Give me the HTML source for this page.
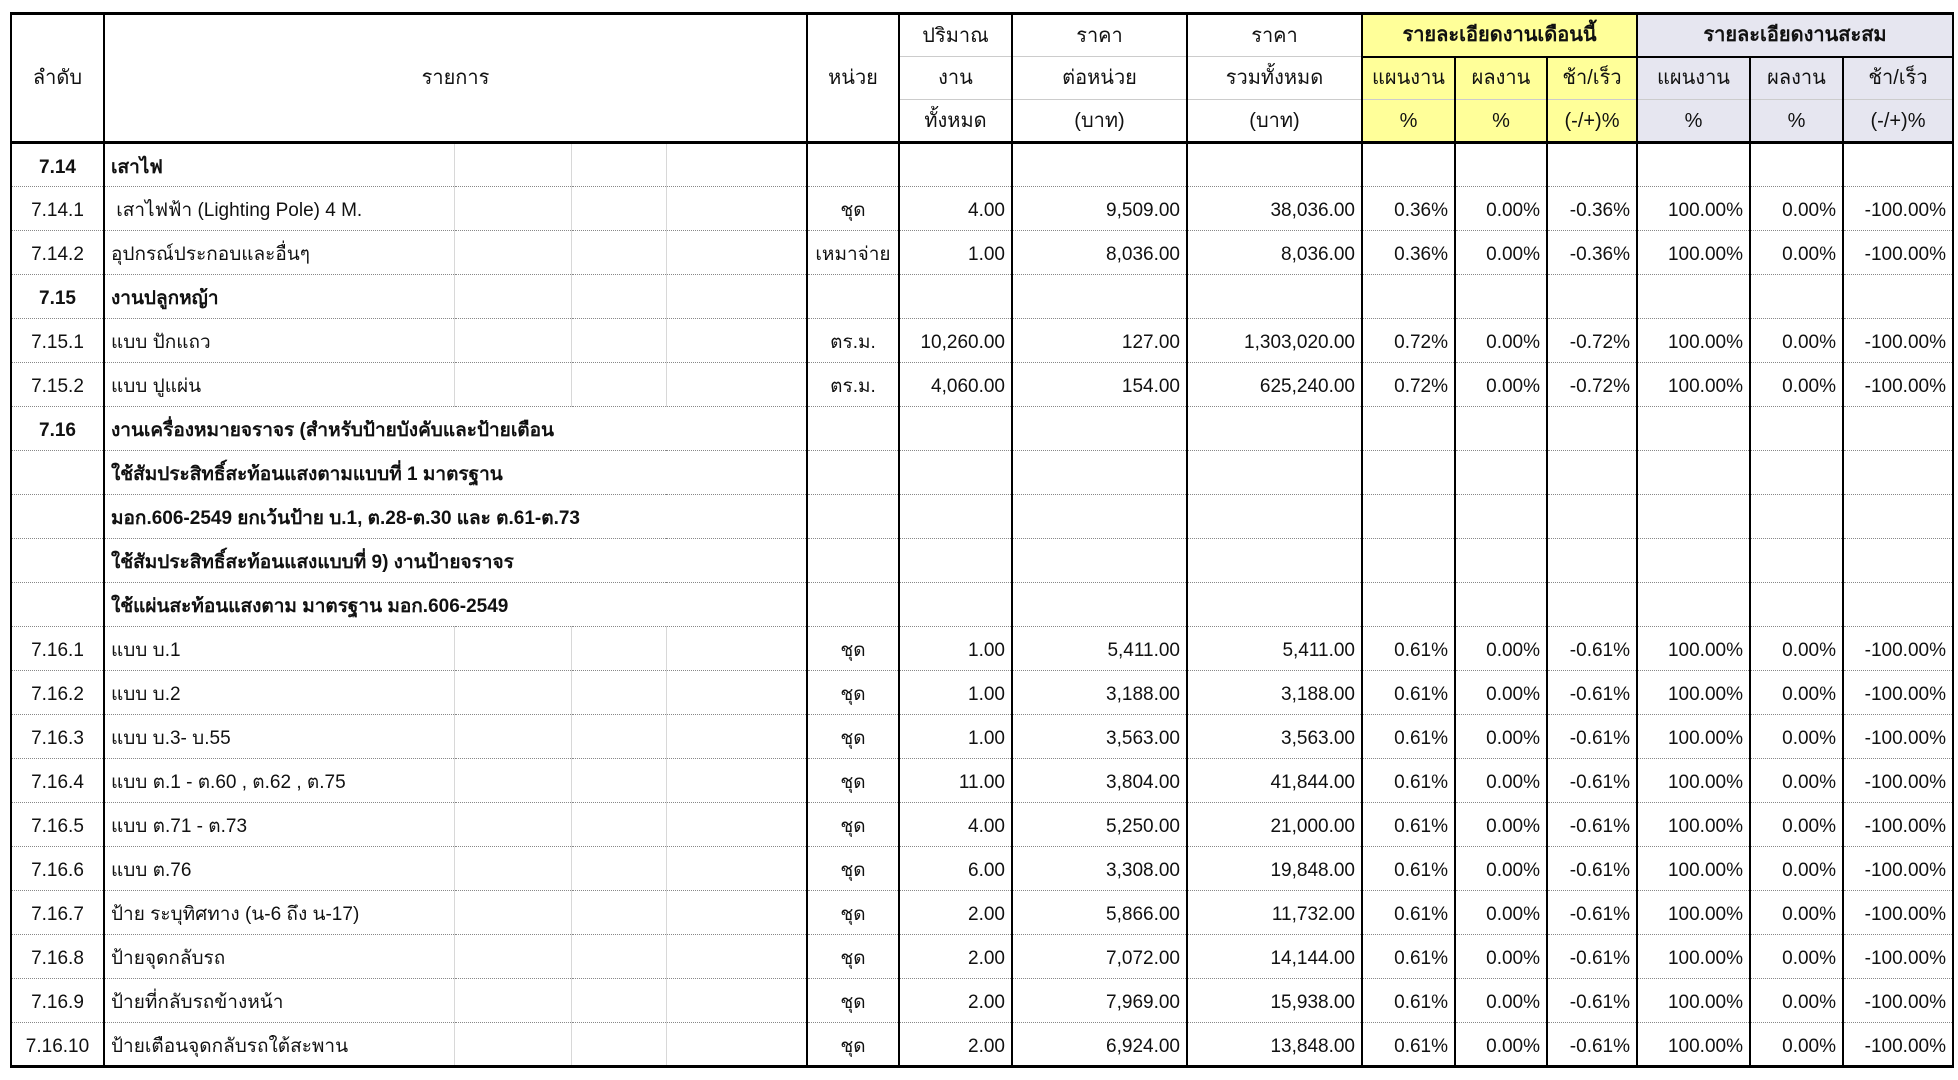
<!DOCTYPE html>
<html><head><meta charset="utf-8">
<style>
body{margin:0;width:1958px;height:1080px;background:#fff;overflow:hidden;font-family:"Liberation Sans",sans-serif;}
table{position:absolute;left:10px;top:12px;border-collapse:collapse;table-layout:fixed;font-size:19px;color:#111;}
td{padding:0 6px;white-space:nowrap;overflow:hidden;border-left:2px solid #000;border-right:2px solid #000;line-height:22px;box-sizing:border-box;}
thead td{text-align:center;border-top:1px solid #ccc;height:43px;font-size:20px}
thead tr:first-child td{border-top:3px solid #000;}
thead tr:last-child td,thead td.rs{border-bottom:3px solid #000;}
.y{background:#ffff99}.l{background:#e6e6f0}
tbody td{height:44px;border-bottom:1px dotted #888;padding-top:5px}
.c{text-align:center}.r{text-align:right}.b{font-weight:bold}
.g{border-right:1px solid #d8d8d8!important}
.g2{border-left:1px solid #d8d8d8!important;border-right:1px solid #d8d8d8!important}
.g3{border-left:1px solid #d8d8d8!important}
tbody tr:last-child td{border-bottom:3px solid #000}
.ov{overflow:visible}
</style></head><body>
<table>
<colgroup><col style="width:93px"><col style="width:350px"><col style="width:117px"><col style="width:95px"><col style="width:141px"><col style="width:92px"><col style="width:113px"><col style="width:175px"><col style="width:175px"><col style="width:93px"><col style="width:92px"><col style="width:90px"><col style="width:113px"><col style="width:93px"><col style="width:110px"></colgroup>
<thead>
<tr><td class="rs" rowspan="3">ลำดับ</td><td class="rs" rowspan="3" colspan="4">รายการ</td><td class="rs" rowspan="3">หน่วย</td><td>ปริมาณ</td><td>ราคา</td><td>ราคา</td><td class="y b" colspan="3" style="border-bottom:2px solid #000">รายละเอียดงานเดือนนี้</td><td class="l b" colspan="3" style="border-bottom:2px solid #000">รายละเอียดงานสะสม</td></tr>
<tr><td>งาน</td><td>ต่อหน่วย</td><td>รวมทั้งหมด</td><td class="y">แผนงาน</td><td class="y">ผลงาน</td><td class="y">ช้า/เร็ว</td><td class="l">แผนงาน</td><td class="l">ผลงาน</td><td class="l">ช้า/เร็ว</td></tr>
<tr><td>ทั้งหมด</td><td>(บาท)</td><td>(บาท)</td><td class="y">%</td><td class="y">%</td><td class="y">(-/+)%</td><td class="l">%</td><td class="l">%</td><td class="l">(-/+)%</td></tr>
</thead>
<tbody>
<tr><td class="c b">7.14</td><td class="g b">เสาไฟ</td><td class="g2"></td><td class="g2"></td><td class="g3"></td><td></td><td></td><td></td><td></td><td></td><td></td><td></td><td></td><td></td><td></td></tr>
<tr><td class="c">7.14.1</td><td class="g ov">&nbsp;เสาไฟฟ้า (Lighting Pole) 4 M.</td><td class="g2"></td><td class="g2"></td><td class="g3"></td><td class="c">ชุด</td><td class="r">4.00</td><td class="r">9,509.00</td><td class="r">38,036.00</td><td class="r">0.36%</td><td class="r">0.00%</td><td class="r">-0.36%</td><td class="r">100.00%</td><td class="r">0.00%</td><td class="r">-100.00%</td></tr>
<tr><td class="c">7.14.2</td><td class="g">อุปกรณ์ประกอบและอื่นๆ</td><td class="g2"></td><td class="g2"></td><td class="g3"></td><td class="c" style="padding:5px 2px 0">เหมาจ่าย</td><td class="r">1.00</td><td class="r">8,036.00</td><td class="r">8,036.00</td><td class="r">0.36%</td><td class="r">0.00%</td><td class="r">-0.36%</td><td class="r">100.00%</td><td class="r">0.00%</td><td class="r">-100.00%</td></tr>
<tr><td class="c b">7.15</td><td class="g b">งานปลูกหญ้า</td><td class="g2"></td><td class="g2"></td><td class="g3"></td><td></td><td></td><td></td><td></td><td></td><td></td><td></td><td></td><td></td><td></td></tr>
<tr><td class="c">7.15.1</td><td class="g">แบบ ปักแถว</td><td class="g2"></td><td class="g2"></td><td class="g3"></td><td class="c">ตร.ม.</td><td class="r">10,260.00</td><td class="r">127.00</td><td class="r">1,303,020.00</td><td class="r">0.72%</td><td class="r">0.00%</td><td class="r">-0.72%</td><td class="r">100.00%</td><td class="r">0.00%</td><td class="r">-100.00%</td></tr>
<tr><td class="c">7.15.2</td><td class="g">แบบ ปูแผ่น</td><td class="g2"></td><td class="g2"></td><td class="g3"></td><td class="c">ตร.ม.</td><td class="r">4,060.00</td><td class="r">154.00</td><td class="r">625,240.00</td><td class="r">0.72%</td><td class="r">0.00%</td><td class="r">-0.72%</td><td class="r">100.00%</td><td class="r">0.00%</td><td class="r">-100.00%</td></tr>
<tr><td class="c b">7.16</td><td class="b" colspan="4">งานเครื่องหมายจราจร (สำหรับป้ายบังคับและป้ายเตือน</td><td></td><td></td><td></td><td></td><td></td><td></td><td></td><td></td><td></td><td></td></tr>
<tr><td></td><td class="b" colspan="4">ใช้สัมประสิทธิ์สะท้อนแสงตามแบบที่ 1 มาตรฐาน</td><td></td><td></td><td></td><td></td><td></td><td></td><td></td><td></td><td></td><td></td></tr>
<tr><td></td><td class="b" colspan="4">มอก.606-2549 ยกเว้นป้าย บ.1, ต.28-ต.30 และ ต.61-ต.73</td><td></td><td></td><td></td><td></td><td></td><td></td><td></td><td></td><td></td><td></td></tr>
<tr><td></td><td class="b" colspan="4">ใช้สัมประสิทธิ์สะท้อนแสงแบบที่ 9) งานป้ายจราจร</td><td></td><td></td><td></td><td></td><td></td><td></td><td></td><td></td><td></td><td></td></tr>
<tr><td></td><td class="b" colspan="4">ใช้แผ่นสะท้อนแสงตาม มาตรฐาน มอก.606-2549</td><td></td><td></td><td></td><td></td><td></td><td></td><td></td><td></td><td></td><td></td></tr>
<tr><td class="c">7.16.1</td><td class="g">แบบ บ.1</td><td class="g2"></td><td class="g2"></td><td class="g3"></td><td class="c">ชุด</td><td class="r">1.00</td><td class="r">5,411.00</td><td class="r">5,411.00</td><td class="r">0.61%</td><td class="r">0.00%</td><td class="r">-0.61%</td><td class="r">100.00%</td><td class="r">0.00%</td><td class="r">-100.00%</td></tr>
<tr><td class="c">7.16.2</td><td class="g">แบบ บ.2</td><td class="g2"></td><td class="g2"></td><td class="g3"></td><td class="c">ชุด</td><td class="r">1.00</td><td class="r">3,188.00</td><td class="r">3,188.00</td><td class="r">0.61%</td><td class="r">0.00%</td><td class="r">-0.61%</td><td class="r">100.00%</td><td class="r">0.00%</td><td class="r">-100.00%</td></tr>
<tr><td class="c">7.16.3</td><td class="g">แบบ บ.3- บ.55</td><td class="g2"></td><td class="g2"></td><td class="g3"></td><td class="c">ชุด</td><td class="r">1.00</td><td class="r">3,563.00</td><td class="r">3,563.00</td><td class="r">0.61%</td><td class="r">0.00%</td><td class="r">-0.61%</td><td class="r">100.00%</td><td class="r">0.00%</td><td class="r">-100.00%</td></tr>
<tr><td class="c">7.16.4</td><td class="g">แบบ ต.1 - ต.60 , ต.62 , ต.75</td><td class="g2"></td><td class="g2"></td><td class="g3"></td><td class="c">ชุด</td><td class="r">11.00</td><td class="r">3,804.00</td><td class="r">41,844.00</td><td class="r">0.61%</td><td class="r">0.00%</td><td class="r">-0.61%</td><td class="r">100.00%</td><td class="r">0.00%</td><td class="r">-100.00%</td></tr>
<tr><td class="c">7.16.5</td><td class="g">แบบ ต.71 - ต.73</td><td class="g2"></td><td class="g2"></td><td class="g3"></td><td class="c">ชุด</td><td class="r">4.00</td><td class="r">5,250.00</td><td class="r">21,000.00</td><td class="r">0.61%</td><td class="r">0.00%</td><td class="r">-0.61%</td><td class="r">100.00%</td><td class="r">0.00%</td><td class="r">-100.00%</td></tr>
<tr><td class="c">7.16.6</td><td class="g">แบบ ต.76</td><td class="g2"></td><td class="g2"></td><td class="g3"></td><td class="c">ชุด</td><td class="r">6.00</td><td class="r">3,308.00</td><td class="r">19,848.00</td><td class="r">0.61%</td><td class="r">0.00%</td><td class="r">-0.61%</td><td class="r">100.00%</td><td class="r">0.00%</td><td class="r">-100.00%</td></tr>
<tr><td class="c">7.16.7</td><td class="g ov">ป้าย ระบุทิศทาง (น-6 ถึง น-17)</td><td class="g2"></td><td class="g2"></td><td class="g3"></td><td class="c">ชุด</td><td class="r">2.00</td><td class="r">5,866.00</td><td class="r">11,732.00</td><td class="r">0.61%</td><td class="r">0.00%</td><td class="r">-0.61%</td><td class="r">100.00%</td><td class="r">0.00%</td><td class="r">-100.00%</td></tr>
<tr><td class="c">7.16.8</td><td class="g">ป้ายจุดกลับรถ</td><td class="g2"></td><td class="g2"></td><td class="g3"></td><td class="c">ชุด</td><td class="r">2.00</td><td class="r">7,072.00</td><td class="r">14,144.00</td><td class="r">0.61%</td><td class="r">0.00%</td><td class="r">-0.61%</td><td class="r">100.00%</td><td class="r">0.00%</td><td class="r">-100.00%</td></tr>
<tr><td class="c">7.16.9</td><td class="g">ป้ายที่กลับรถข้างหน้า</td><td class="g2"></td><td class="g2"></td><td class="g3"></td><td class="c">ชุด</td><td class="r">2.00</td><td class="r">7,969.00</td><td class="r">15,938.00</td><td class="r">0.61%</td><td class="r">0.00%</td><td class="r">-0.61%</td><td class="r">100.00%</td><td class="r">0.00%</td><td class="r">-100.00%</td></tr>
<tr><td class="c" style="padding:5px 2px 0">7.16.10</td><td class="g">ป้ายเตือนจุดกลับรถใต้สะพาน</td><td class="g2"></td><td class="g2"></td><td class="g3"></td><td class="c">ชุด</td><td class="r">2.00</td><td class="r">6,924.00</td><td class="r">13,848.00</td><td class="r">0.61%</td><td class="r">0.00%</td><td class="r">-0.61%</td><td class="r">100.00%</td><td class="r">0.00%</td><td class="r">-100.00%</td></tr>
</tbody>
</table>
</body></html>
